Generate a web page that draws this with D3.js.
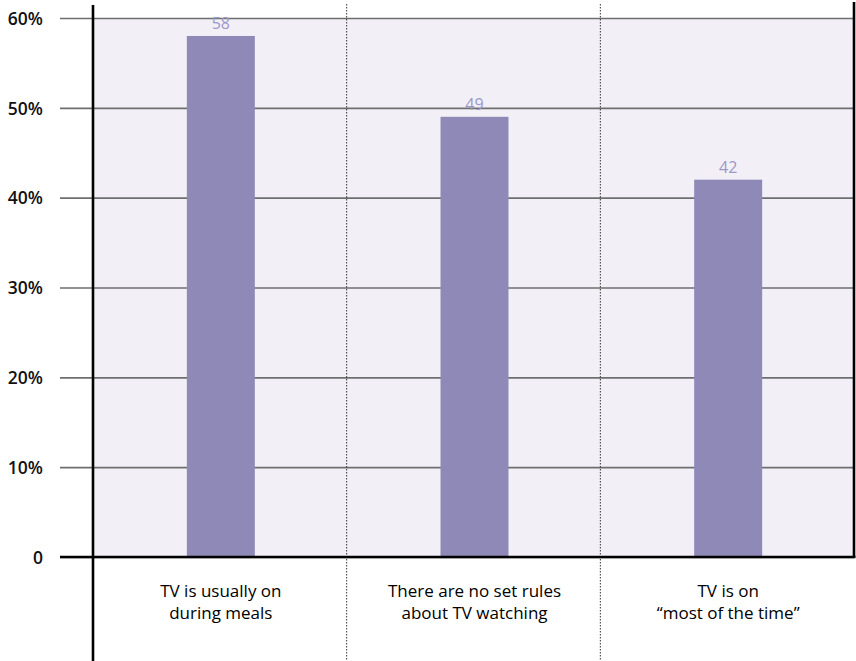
<!DOCTYPE html>
<html>
<head>
<meta charset="utf-8">
<script src="https://cdn.jsdelivr.net/npm/d3@7"></script>
<style>
  html, body { margin: 0; padding: 0; background: #ffffff; }
  svg { display: block; }
  text { font-family: "Open Sans", "Noto Sans", sans-serif; }
</style>
</head>
<body>
<svg id="chart" width="856" height="661"></svg>
<script>
// Data
const categories = [
  ["TV is usually on", "during meals"],
  ["There are no set rules", "about TV watching"],
  ["TV is on", "\u201cmost of the time\u201d"]
];
const values = [58, 49, 42];
const tickValues = [0, 10, 20, 30, 40, 50, 60];
const tickLabels = ["0", "10%", "20%", "30%", "40%", "50%", "60%"];

const W = 856, H = 661;
const plot = { left: 93, right: 854, top: 18, bottom: 557 };

const svg = d3.select("#chart");

const x = d3.scaleBand()
  .domain(d3.range(categories.length))
  .range([plot.left, plot.right])
  .padding(0);

const y = d3.scaleLinear()
  .domain([0, 60])
  .range([plot.bottom, plot.top]);

const barWidth = 68;
const cx = i => x(i) + x.bandwidth() / 2 + 1;

// Plot background
svg.append("rect")
  .attr("x", plot.left).attr("y", plot.top)
  .attr("width", plot.right - plot.left)
  .attr("height", plot.bottom - plot.top)
  .attr("fill", "#f2f0f6");

// Horizontal gridlines with their labels
const yAxis = d3.axisLeft(y)
  .tickValues(tickValues)
  .tickSize(-(plot.right - 60))
  .tickFormat((d, i) => tickLabels[i]);

const gy = svg.append("g")
  .attr("transform", `translate(60,0)`)
  .call(yAxis);
gy.select(".domain").remove();
gy.selectAll(".tick line")
  .attr("stroke", "#6e6e6e")
  .attr("stroke-width", 1.6);
gy.selectAll(".tick text")
  .attr("x", -17)
  .attr("dy", "0.36em")
  .attr("fill", "#111")
  .style("font-size", "17.5px")
  .style("font-weight", 600);

// Dotted separators between categories
const seps = [1, 2].map(i => x(i));
svg.selectAll("line.sep")
  .data(seps)
  .join("line")
  .attr("class", "sep")
  .attr("x1", d => d).attr("x2", d => d)
  .attr("y1", 4).attr("y2", H)
  .attr("stroke", "#333")
  .attr("stroke-width", 1)
  .attr("stroke-dasharray", "1.5,1.5");

// Bars
svg.selectAll("rect.bar")
  .data(values)
  .join("rect")
  .attr("class", "bar")
  .attr("x", (d, i) => cx(i) - barWidth / 2)
  .attr("y", d => y(d))
  .attr("width", barWidth)
  .attr("height", d => y(0) - y(d))
  .attr("fill", "#8e89b7");

// Value labels
svg.selectAll("text.val")
  .data(values)
  .join("text")
  .attr("class", "val")
  .attr("x", (d, i) => cx(i))
  .attr("y", d => y(d) - 7)
  .attr("text-anchor", "middle")
  .attr("fill", "#9d98c6")
  .style("font-size", "16px")
  .text(d => d);

// Zero baseline
svg.append("line")
  .attr("x1", 60).attr("x2", plot.right + 1.5)
  .attr("y1", y(0)).attr("y2", y(0))
  .attr("stroke", "#000").attr("stroke-width", 2.6);

// Left axis line
svg.append("line")
  .attr("x1", plot.left).attr("x2", plot.left)
  .attr("y1", 5).attr("y2", H)
  .attr("stroke", "#000").attr("stroke-width", 2.6);

// Right border of the plot
svg.append("line")
  .attr("x1", plot.right).attr("x2", plot.right)
  .attr("y1", 2).attr("y2", y(0))
  .attr("stroke", "#000").attr("stroke-width", 2.6);

// Category labels, one text per line
const catLines = categories.flatMap((lines, i) => lines.map((s, j) => ({ s, i, j })));
svg.selectAll("text.cat")
  .data(catLines)
  .join("text")
  .attr("class", "cat")
  .attr("x", d => cx(d.i))
  .attr("y", d => 597 + d.j * 22)
  .attr("text-anchor", "middle")
  .attr("fill", "#000")
  .style("font-size", "17px")
  .style("font-weight", 500)
  .text(d => d.s);
</script>
</body>
</html>
